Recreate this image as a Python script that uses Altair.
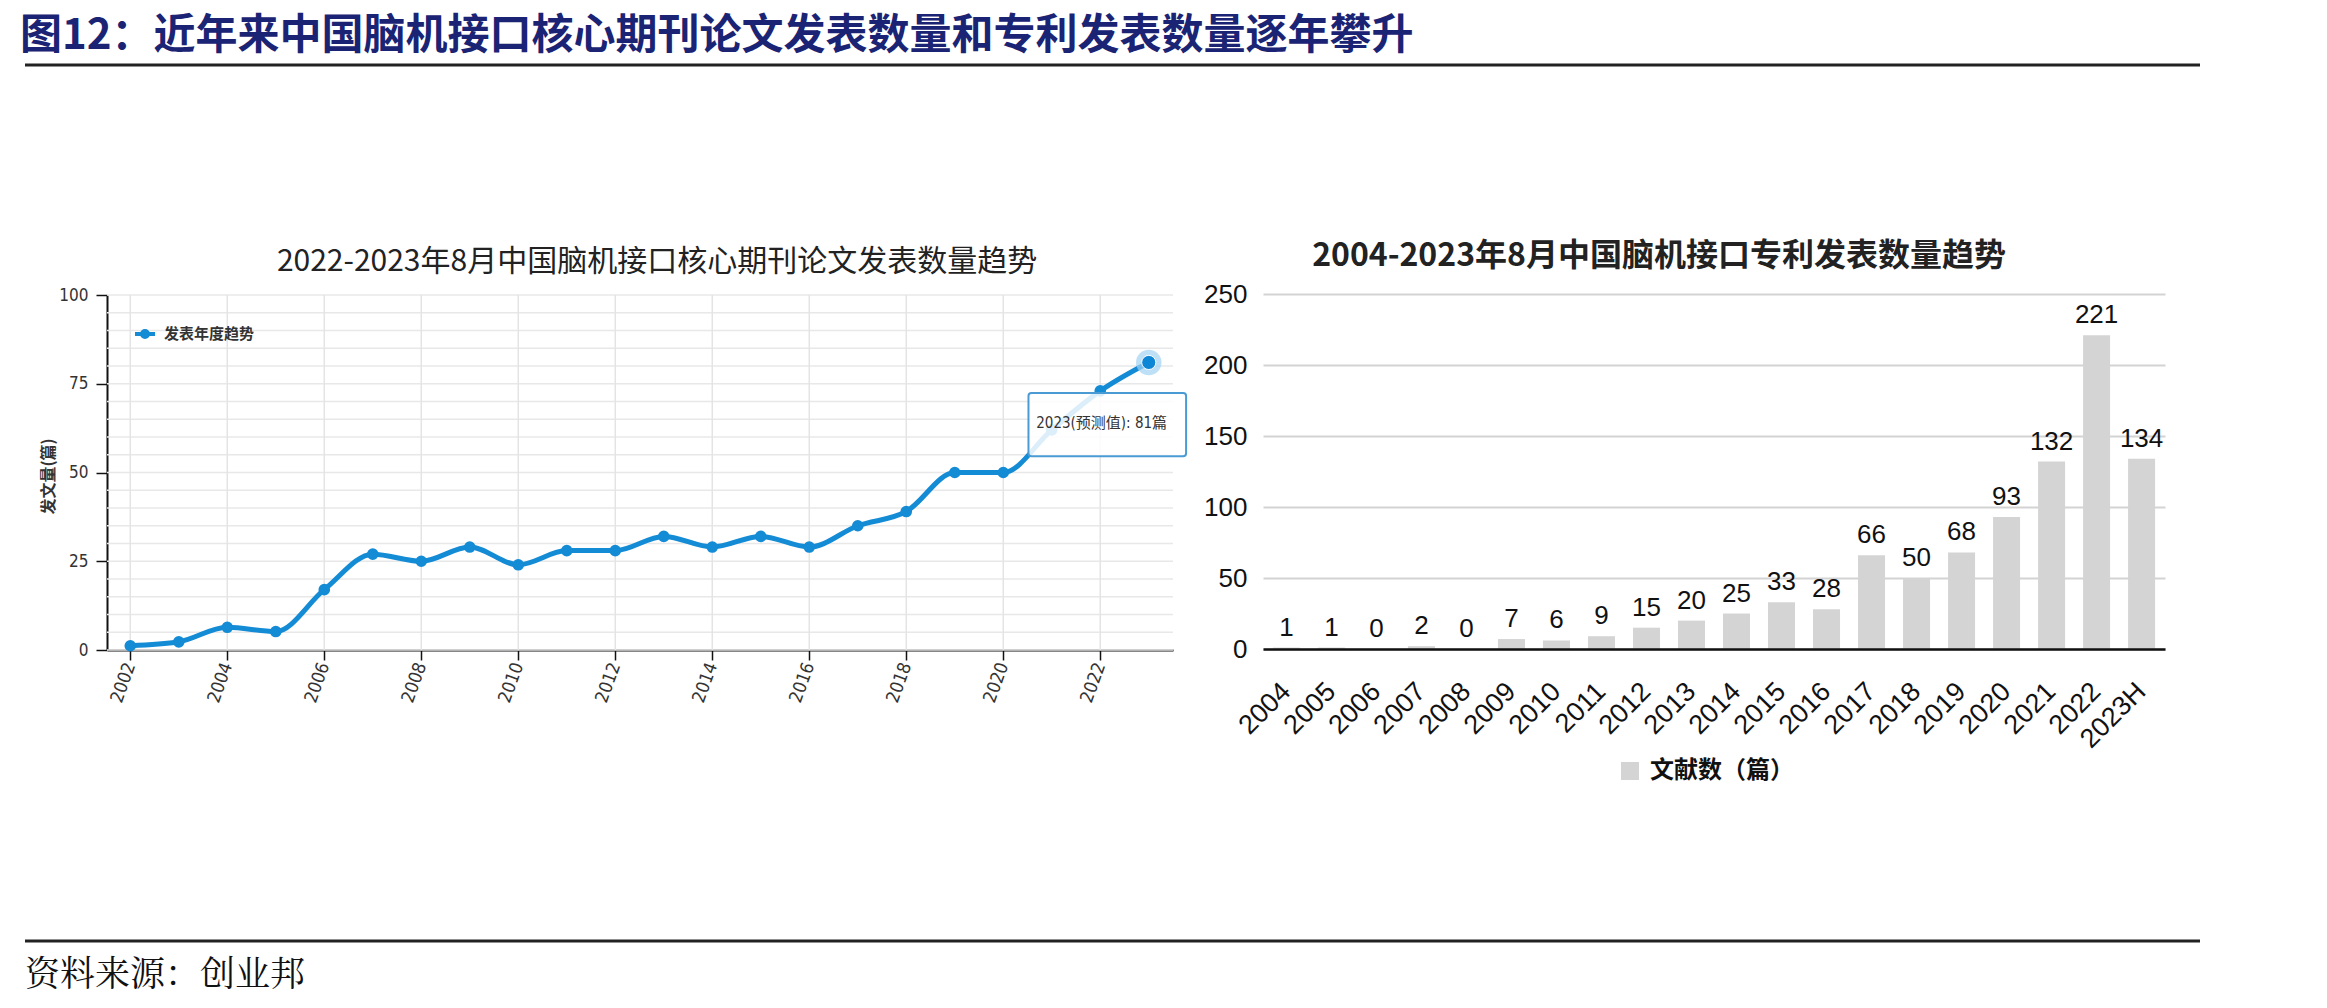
import altair as alt
import pandas as pd

# ---------------- data ----------------
paper_years = list(range(2002, 2024))
paper_counts = [1.2, 2.3, 6.4, 5.2, 17, 27, 25, 29, 24, 28, 28, 32, 29, 32, 29, 35, 39, 50, 50, 62, 73, 81]
paper_year_ticks = list(range(2002, 2023, 2))
paper_value_ticks = [0, 25, 50, 75, 100]
paper_grid_values = list(range(0, 101, 5))
paper_year_domain = [2001.52, 2023.5]
paper_value_domain = [0, 100]
paper_series = "发表年度趋势"
paper_y_title = "发文量(篇)"
forecast_year = [2023]
forecast_value = [81]
forecast_label = "2023(预测值): 81篇"
# tooltip annotation (data units)
tip_years = [2020.52, 2023.77]
tip_values = [72.4, 54.6]
tip_text_pos = [2020.68, 64.0]

patent_years = [str(y) for y in range(2004, 2023)] + ["2023H"]
patent_counts = [1, 1, 0, 2, 0, 7, 6, 9, 15, 20, 25, 33, 28, 66, 50, 68, 93, 132, 221, 134]
patent_value_ticks = [0, 50, 100, 150, 200, 250]
patent_value_domain = [0, 250]
patent_series = "文献数（篇）"

header_title = "图12：近年来中国脑机接口核心期刊论文发表数量和专利发表数量逐年攀升"
left_title = "2022-2023年8月中国脑机接口核心期刊论文发表数量趋势"
right_title = "2004-2023年8月中国脑机接口专利发表数量趋势"
source_note = "资料来源：创业邦"

# ---------------- layout / style ----------------
W, H = 2327, 1008
L_X = [107, 1173]
L_Y = [650, 295]
R_X = [1263, 2165]
R_Y = [649, 294]

CJK = "Noto Sans CJK SC"
NARROW = "Liberation Sans Narrow, DejaVu Sans Condensed, Liberation Sans, Noto Sans CJK SC, sans-serif"
ARIAL = "Liberation Sans, Arial, Noto Sans CJK SC, sans-serif"
BLUE = "#148bd5"

# ---------------- left chart ----------------
lx_scale = alt.Scale(domain=paper_year_domain, range=L_X, nice=False, zero=False)
ly_scale = alt.Scale(domain=paper_value_domain, range=L_Y, nice=False)
lx_axis = alt.Axis(orient="bottom", offset=L_Y[0] - H, values=paper_year_ticks, format="d",
                   labelAngle=-70, labelAlign="right", labelBaseline="middle",
                   labelFont=NARROW, labelFontSize=18, labelColor="#333", labelPadding=3,
                   tickSize=10, tickColor="#111", tickWidth=1.5, domainColor="#111",
                   domainWidth=2, grid=False, title=None, labelOverlap=False, labelFlush=False)
ly_axis = alt.Axis(orient="left", offset=-L_X[0], values=paper_value_ticks,
                   labelFont=NARROW, labelFontSize=17, labelColor="#333", labelPadding=8,
                   tickSize=11, tickColor="#111", tickWidth=1.5, domainColor="#111",
                   domainWidth=2, grid=False, title=paper_y_title, titleFont=CJK,
                   titleFontSize=16, titleFontWeight="bold", titleColor="#333",
                   titleX=48 - L_X[0], titleY=476, titleAngle=270,
                   titleAlign="center", titleBaseline="middle")

LX = alt.X("year:Q", scale=lx_scale, axis=lx_axis)
LY = alt.Y("count:Q", scale=ly_scale, axis=ly_axis)

paper_df = pd.DataFrame({"year": paper_years, "count": paper_counts, "lseries": paper_series})
hgrid_df = pd.DataFrame({"count": paper_grid_values})
vgrid_df = pd.DataFrame({"year": paper_year_ticks})
fc_df = pd.DataFrame({"year": forecast_year, "count": forecast_value})
tip_df = pd.DataFrame({"year": [tip_years[0]], "year2": [tip_years[1]],
                       "count": [tip_values[0]], "count2": [tip_values[1]]})
tip_txt_df = pd.DataFrame({"year": [tip_text_pos[0]], "count": [tip_text_pos[1]], "label": [forecast_label]})

legend_path = ("M-1,0L1,0"
               "M-0.3,0A0.3,0.3,0,1,0,0.3,0A0.3,0.3,0,1,0,-0.3,0"
               "M-0.1,0A0.1,0.1,0,1,0,0.1,0A0.1,0.1,0,1,0,-0.1,0")

hgrid = alt.Chart(hgrid_df).mark_rule(color="#e8e8e8", strokeWidth=1.5).encode(
    y=LY, x=alt.X(datum=paper_year_domain[0]), x2=alt.X2(datum=paper_year_domain[1]))
vgrid = alt.Chart(vgrid_df).mark_rule(color="#e4e4e4", strokeWidth=1.5).encode(
    x=LX, y=alt.Y(datum=paper_value_domain[0]), y2=alt.Y2(datum=paper_value_domain[1]))
line = alt.Chart(paper_df).mark_line(interpolate="monotone", strokeWidth=5).encode(
    x=LX, y=LY,
    color=alt.Color("lseries:N", scale=alt.Scale(range=[BLUE]),
                    legend=alt.Legend(orient="none", legendX=133, legendY=322, title=None,
                                      symbolType=legend_path, symbolSize=400,
                                      symbolStrokeWidth=4, symbolStrokeColor=BLUE,
                                      symbolFillColor=BLUE, labelFont=CJK, labelFontSize=15,
                                      labelFontWeight="bold", labelColor="#333",
                                      labelOffset=7, padding=0)))
points = alt.Chart(paper_df).mark_circle(size=135, color=BLUE, opacity=1).encode(x=LX, y=LY)
halo = alt.Chart(fc_df).mark_circle(size=650, color="#a3d3f3", opacity=0.7).encode(x=LX, y=LY)
core = alt.Chart(fc_df).mark_circle(size=200, color="#0d86d6", opacity=1, stroke="white",
                                    strokeWidth=1).encode(x=LX, y=LY)
tip_box = alt.Chart(tip_df).mark_rect(fill="white", fillOpacity=0.85, stroke="#4a9bd3",
                                      strokeWidth=2, cornerRadius=3).encode(
    x=LX, x2="year2:Q", y=LY, y2="count2:Q")
tip_text = alt.Chart(tip_txt_df).mark_text(align="left", baseline="middle", font=NARROW,
                                           fontSize=15, color="#333").encode(
    x=LX, y=LY, text="label:N")

left = alt.layer(hgrid, vgrid, line, points, tip_box, tip_text, halo, core)

# ---------------- right chart ----------------
rx_scale = alt.Scale(domain=patent_years, range=R_X, paddingInner=0.4, paddingOuter=0.22)
ry_scale = alt.Scale(domain=patent_value_domain, range=R_Y, nice=False)
rx_axis = alt.Axis(orient="bottom", offset=R_Y[0] - H, labelAngle=-45, labelAlign="right",
                   labelBaseline="middle", labelFont=ARIAL, labelFontSize=27,
                   labelColor="#111", labelPadding=38, ticks=False, tickSize=0,
                   domainColor="#111", domainWidth=2.5, title=None, zindex=1,
                   labelOverlap=False, grid=False)
ry_axis = alt.Axis(orient="left", offset=-R_X[0], values=patent_value_ticks, grid=True,
                   gridColor="#d3d3d3", gridWidth=2, domain=False, ticks=False, tickSize=0,
                   labelFont=ARIAL, labelFontSize=26, labelColor="#111", labelPadding=16,
                   title=None)
RX = alt.X("year:N", sort=patent_years, scale=rx_scale, axis=rx_axis)
RY = alt.Y("count:Q", scale=ry_scale, axis=ry_axis)

patent_df = pd.DataFrame({"year": patent_years, "count": patent_counts, "rseries": patent_series})
bars = alt.Chart(patent_df).mark_bar().encode(
    x=RX, y=RY,
    color=alt.Color("rseries:N", scale=alt.Scale(range=["#d4d4d4"]),
                    legend=alt.Legend(orient="none", legendX=1618, legendY=759, title=None,
                                      symbolType="square", symbolSize=324,
                                      symbolStrokeWidth=0, labelFont=CJK, labelFontSize=24,
                                      labelFontWeight="bold", labelColor="#111",
                                      labelOffset=8, padding=0)))
bar_labels = alt.Chart(patent_df).mark_text(baseline="alphabetic", dy=-12, font=ARIAL,
                                            fontSize=26, color="#111").encode(
    x=RX, y=RY, text="count:Q")
right = alt.layer(bars, bar_labels)

# ---------------- page annotations ----------------
def text_layer(txt, x, y, size, weight="normal", color="#222", align="left", font=CJK):
    return alt.Chart(pd.DataFrame({"t": [txt]})).mark_text(
        align=align, baseline="middle", font=font, fontSize=size, fontWeight=weight,
        color=color).encode(x=alt.value(x), y=alt.value(y), text="t:N")

def hline(y):
    return alt.Chart(pd.DataFrame({"k": [0]})).mark_rule(color="#222", strokeWidth=3).encode(
        x=alt.value(25), x2=alt.value(2200), y=alt.value(y))

header = text_layer(header_title, 20, 36, 42, "bold", "#1b2474")
top_rule = hline(65)
bottom_rule = hline(941)
footer = text_layer(source_note, 25, 975, 35, "normal", "#111",
                    font="Noto Serif CJK SC, Noto Sans CJK SC, serif")
lt = text_layer(left_title, 657, 262, 30, "normal", "#222", align="center")
rt = text_layer(right_title, 1659, 256, 32, "bold", "#222", align="center")

chart = alt.layer(left, right, header, top_rule, bottom_rule, footer, lt, rt).resolve_scale(
    x="independent", y="independent", color="independent"
).resolve_axis(x="independent", y="independent").resolve_legend(color="independent").properties(
    width=W, height=H, padding=0, autosize=alt.AutoSizeParams(type="none"), background="white"
).configure_view(stroke=None)

chart.save("out.html", embed_options={"renderer": "svg", "actions": False})
